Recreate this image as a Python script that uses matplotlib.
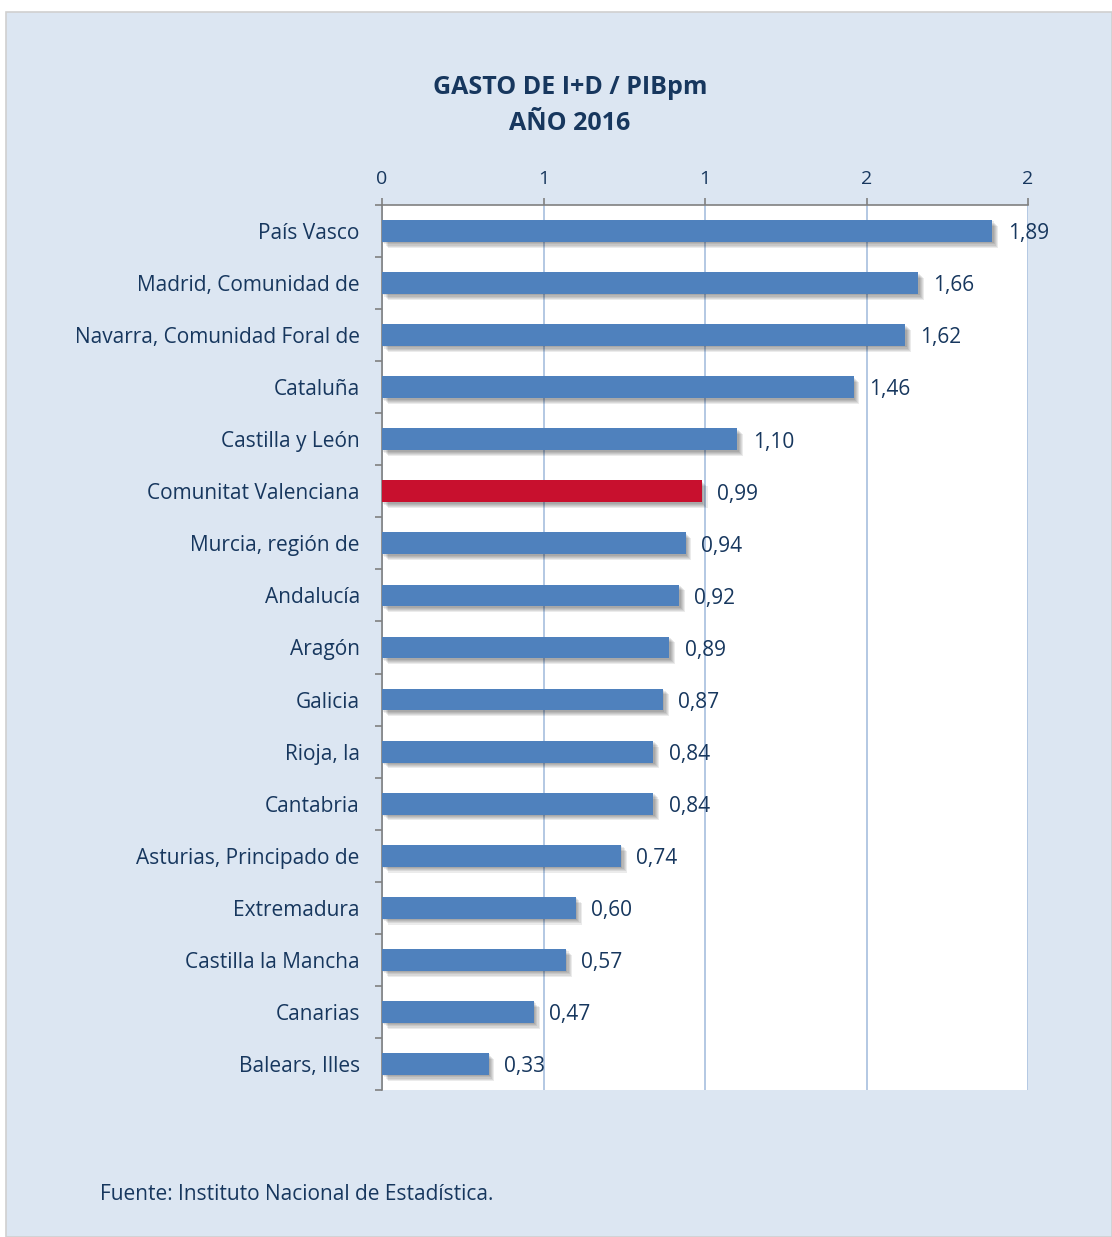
import matplotlib.pyplot as plt
import matplotlib.patheffects as pe
from matplotlib.patches import Rectangle
from matplotlib.ticker import FixedLocator

regions = [
    "País Vasco",
    "Madrid, Comunidad de",
    "Navarra, Comunidad Foral de",
    "Cataluña",
    "Castilla y León",
    "Comunitat Valenciana",
    "Murcia, región de",
    "Andalucía",
    "Aragón",
    "Galicia",
    "Rioja, la",
    "Cantabria",
    "Asturias, Principado de",
    "Extremadura",
    "Castilla la Mancha",
    "Canarias",
    "Balears, Illes",
]
values = [1.89, 1.66, 1.62, 1.46, 1.10, 0.99, 0.94, 0.92, 0.89, 0.87,
          0.84, 0.84, 0.74, 0.60, 0.57, 0.47, 0.33]
highlight = "Comunitat Valenciana"
x_ticks = [0, 0.5, 1, 1.5, 2]
x_tick_labels = ["0", "1", "1", "2", "2"]

navy = "#17375E"
blue = "#4F81BD"
red = "#C8102E"
panel = "#DCE6F2"

plt.rcParams["font.family"] = ["Open Sans", "DejaVu Sans"]

fig = plt.figure(figsize=(11.12, 12.37), dpi=100)
fig.patch.set_facecolor("white")
fig.patches.append(Rectangle((6 / 1112, 0), 1 - 6 / 1112, 1 - 12 / 1237,
                             transform=fig.transFigure, facecolor=panel,
                             edgecolor="#D0D0D0", linewidth=1.2, zorder=-5))

ax = fig.add_axes([382 / 1112, 1 - 1090 / 1237, 646 / 1112, 885 / 1237])
ax.set_facecolor("white")

ypos = list(range(len(regions)))
colors = [red if r == highlight else blue for r in regions]
# soft drop shadow, built from a few stacked offsets
shadow = [pe.SimplePatchShadow(offset=(o, -o), shadow_rgbFace="black", alpha=0.08)
          for o in (1.0, 1.8, 2.6, 3.4, 4.2)]
bars = ax.barh(ypos, values, height=0.42, color=colors, zorder=3)
for b in bars:
    b.set_path_effects(shadow + [pe.Normal()])

for y, v in zip(ypos, values):
    ax.annotate(f"{v:.2f}".replace(".", ","), (v, y), xytext=(11, -2),
                textcoords="offset points", va="center", ha="left",
                fontsize=15, color=navy, zorder=5)

ax.set_xlim(0, 2)
ax.set_ylim(len(regions) - 0.5, -0.5)

ax.xaxis.tick_top()
ax.set_xticks(x_ticks)
ax.set_xticklabels(x_tick_labels)
ax.grid(axis="x", color="#A7BFDE", linewidth=1.2, zorder=1)
ax.set_axisbelow(True)

ax.set_yticks(ypos)
ax.set_yticklabels(regions)
ax.yaxis.set_minor_locator(FixedLocator([i - 0.5 for i in range(len(regions) + 1)]))
ax.tick_params(axis="y", which="major", length=0, pad=16, labelsize=15, labelcolor=navy)
ax.tick_params(axis="y", which="minor", length=5, color="#808080", width=1.2)
ax.tick_params(axis="x", length=5, color="#808080", width=1.2, pad=7,
               labelsize=14, labelcolor=navy)

for side in ("right", "bottom"):
    ax.spines[side].set_visible(False)
for side in ("top", "left"):
    ax.spines[side].set_color("#808080")
    ax.spines[side].set_linewidth(1.2)

fig.text(570 / 1112, 1 - 88 / 1237, "GASTO DE I+D / PIBpm", ha="center", va="center",
         fontsize=18, fontweight="bold", color=navy)
fig.text(570 / 1112, 1 - 124 / 1237, "AÑO 2016", ha="center", va="center",
         fontsize=18, fontweight="bold", color=navy)
fig.text(100 / 1112, 1 - 1195 / 1237, "Fuente: Instituto Nacional de Estadística.",
         ha="left", va="center", fontsize=15, color=navy)

fig.savefig("out.png", dpi=100, facecolor=fig.get_facecolor())
